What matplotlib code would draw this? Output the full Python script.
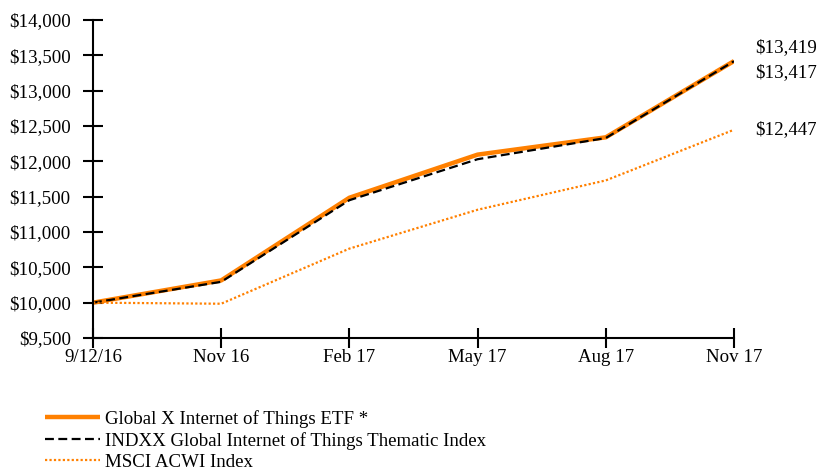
import matplotlib
matplotlib.use("Agg")
import matplotlib.pyplot as plt
import matplotlib.ticker as mticker

dates = ["9/12/16", "Nov 16", "Feb 17", "May 17", "Aug 17", "Nov 17"]
etf = [10000, 10315, 11485, 12095, 12340, 13419]
indxx = [10000, 10295, 11450, 12030, 12330, 13417]
msci = [10000, 9985, 10765, 11315, 11730, 12447]

labels = ["Global X Internet of Things ETF *",
          "INDXX Global Internet of Things Thematic Index",
          "MSCI ACWI Index"]
orange = "#ff8000"

plt.rcParams["font.family"] = ["Liberation Serif", "DejaVu Serif"]
plt.rcParams["font.size"] = 13.6

fig = plt.figure(figsize=(8.18, 4.72), dpi=100)
ax = fig.add_axes([93 / 818, 1 - 338 / 472, (734 - 93) / 818, (338 - 20) / 472])

x = list(range(len(dates)))
l1, = ax.plot(x, etf, color=orange, lw=3.2, solid_capstyle="butt")
l2, = ax.plot(x, indxx, color="black", lw=1.6, ls=(0, (4, 2)))
l3, = ax.plot(x, msci, color=orange, lw=1.6, ls=(0, (1, 1)))

ax.set_xlim(0, len(dates) - 1)
ax.set_ylim(9500, 14000)
ax.set_xticks(x)
ax.set_xticklabels(dates)
ax.yaxis.set_major_locator(mticker.MultipleLocator(500))
ax.yaxis.set_major_formatter(mticker.FuncFormatter(lambda v, p: f"${v:,.0f}"))
ax.tick_params(axis="both", direction="inout", length=14, width=1.5)
ax.tick_params(axis="x", pad=1)
ax.tick_params(axis="y", pad=9)
ax.spines["top"].set_visible(False)
ax.spines["right"].set_visible(False)
for s in ("left", "bottom"):
    ax.spines[s].set_linewidth(1.5)
for lab in ax.get_xticklabels() + ax.get_yticklabels():
    lab.set_clip_on(False)

ends = [etf[-1], indxx[-1], msci[-1]]
offsets = [9.5, -8, 0]
for v, off in zip(ends, offsets):
    ax.annotate(f"${v:,.0f}", xy=(x[-1], v), xytext=(15, off), textcoords="offset points",
                va="center", ha="left", annotation_clip=False)

fig.legend([l1, l2, l3], labels, loc="lower left", bbox_to_anchor=(45 / 818, 0.002),
           frameon=False, handlelength=2.9, handletextpad=0.3, labelspacing=0.22,
           borderpad=0, borderaxespad=0)

fig.savefig("out.png", dpi=100)
